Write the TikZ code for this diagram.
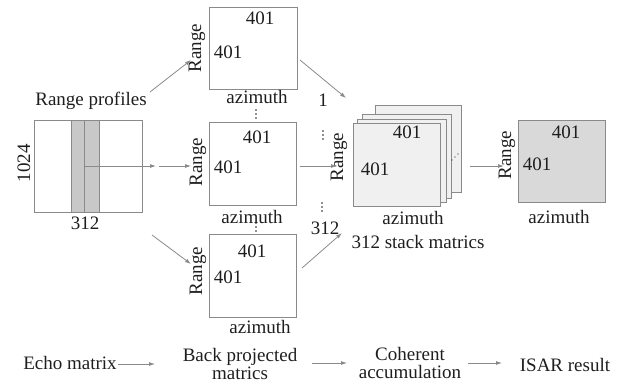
\documentclass[tikz,border=0pt]{standalone}
\usepackage{fontspec}
\setmainfont{Liberation Serif}
\usetikzlibrary{arrows.meta}
\definecolor{lg}{HTML}{8A8A8A}
\definecolor{tx}{HTML}{1E1E1E}
\definecolor{stk}{HTML}{F0F0F0}
\definecolor{res}{HTML}{D9D9D9}
\definecolor{strp}{HTML}{C8C8C8}
\tikzset{
  box/.style={draw=lg, line width=0.9pt, inner sep=0pt},
  lab/.style={text=tx, font=\fontsize{19}{20}\selectfont, inner sep=0pt},
  rlab/.style={lab, rotate=90},
  arr/.style={draw=lg, line width=0.8pt, -{Latex[length=6pt,width=4pt]}},
  dotc/.style={fill=tx, draw=none}
}
\newcommand{\vdts}[2]{\fill[tx] (#1,#2-4) circle (0.9pt) (#1,#2) circle (0.9pt) (#1,#2+4) circle (0.9pt);}
\begin{document}
\begin{tikzpicture}[x=1pt,y=-1pt]
\useasboundingbox (0,0) rectangle (632,384);
% echo matrix
\node[box, minimum width=108pt, minimum height=92pt] (echo) at (88,166) {};
\node[box, fill=strp, minimum width=13pt, minimum height=92pt] (s1) at (77.5,166) {};
\node[box, fill=strp, minimum width=15pt, minimum height=92pt] (s2) at (91.5,166) {};
\node[rlab] (n1024) at (24,163) {1024};
\node[lab] (n312) at (85,223) {312};
\node[lab] (rp) at (91,101) {Range profiles};
\coordinate (stripe) at (84,166);
\coordinate (mid1) at (156,166);
\coordinate (mid2) at (159,166);
% back projected boxes
\node[box, minimum width=88pt, minimum height=82pt] (bt) at (253,48) {};
\node[box, minimum width=87pt, minimum height=83pt] (bm) at (252.5,163.5) {};
\node[box, minimum width=87pt, minimum height=83pt] (bb) at (252.5,275.5) {};
\node[lab] at (260,18) {401};
\node[lab] at (228,52) {401};
\node[rlab] (rt) at (197,48) {Range};
\node[lab] at (257,97) {azimuth};
\node[lab] at (257,137) {401};
\node[lab] at (228,167) {401};
\node[rlab] (rm) at (198,162) {Range};
\node[lab] at (252,217) {azimuth};
\node[lab] at (252,251) {401};
\node[lab] at (228,277) {401};
\node[rlab] (rb) at (198,271) {Range};
\node[lab] at (260,327) {azimuth};
\vdts{256}{114}
\vdts{256}{227}
% stack
\node[box, fill=stk, minimum width=86pt, minimum height=87pt, anchor=north west] (l4) at (375,105) {};
\node[box, fill=stk, minimum width=89pt, minimum height=84pt, anchor=north west] (l3) at (362,114) {};
\node[box, fill=stk, minimum width=89pt, minimum height=83pt, anchor=north west] (l2) at (357,119) {};
\node[box, fill=stk, minimum width=87pt, minimum height=83pt, anchor=north west] (l1) at (353,123) {};
\node[lab] at (407,132) {401};
\node[lab] at (375,169) {401};
\node[rlab] (rs) at (339,157) {Range};
\node[lab] at (413,218) {azimuth};
\node[lab] at (418,242) {312 stack matrics};
\fill[tx] (452,160) circle (0.7pt) (455,157) circle (0.7pt) (458,154) circle (0.7pt);
\node[lab] (one) at (323,100) {1};
\vdts{323}{135}
\vdts{322}{207}
\node[lab] (three) at (325,228) {312};
% result
\node[box, fill=res, minimum width=87pt, minimum height=82pt] (resb) at (561.5,161) {};
\node[lab] at (566,132) {401};
\node[lab] at (537,164) {401};
\node[rlab] (rr) at (507,155) {Range};
\node[lab] at (559,217) {azimuth};
% connectors top area
\coordinate (a1s) at (150,92);
\coordinate (a1e) at (191,60);
\draw[arr] (a1s) -- (a1e);
\draw[arr] (stripe) -- (mid1);
\draw[arr] (mid2) -- (191,166);
\coordinate (a3s) at (152,235);
\coordinate (a3e) at (191,264);
\draw[arr] (a3s) -- (a3e);
\coordinate (t1s) at (300,60);
\coordinate (t1e) at (346,98);
\draw[arr] (t1s) -- (t1e);
\coordinate (t2s) at (300,166);
\coordinate (t2e) at (337,166);
\draw[arr] (t2s) -- (t2e);
\coordinate (t3s) at (302,268);
\coordinate (t3e) at (342,233);
\draw[arr] (t3s) -- (t3e);
\coordinate (r1s) at (470,166);
\coordinate (r1e) at (504,166);
\draw[arr] (r1s) -- (r1e);
% bottom row
\node[lab] (echo2) at (70,363) {Echo matrix};
\node[lab, align=center, font=\fontsize{19}{18}\selectfont] (bp) at (240,364) {Back projected\\matrics};
\node[lab, align=center, font=\fontsize{19}{18}\selectfont] (ca) at (410,363) {Coherent\\accumulation};
\node[lab] (isar) at (565,365) {ISAR result};
\draw[arr] (echo2.east) ++(1,1) -- (155,364);
\draw[arr] (312,363) -- (347,363);
\draw[arr] (468,363) -- (502,363);
\end{tikzpicture}
\end{document}
